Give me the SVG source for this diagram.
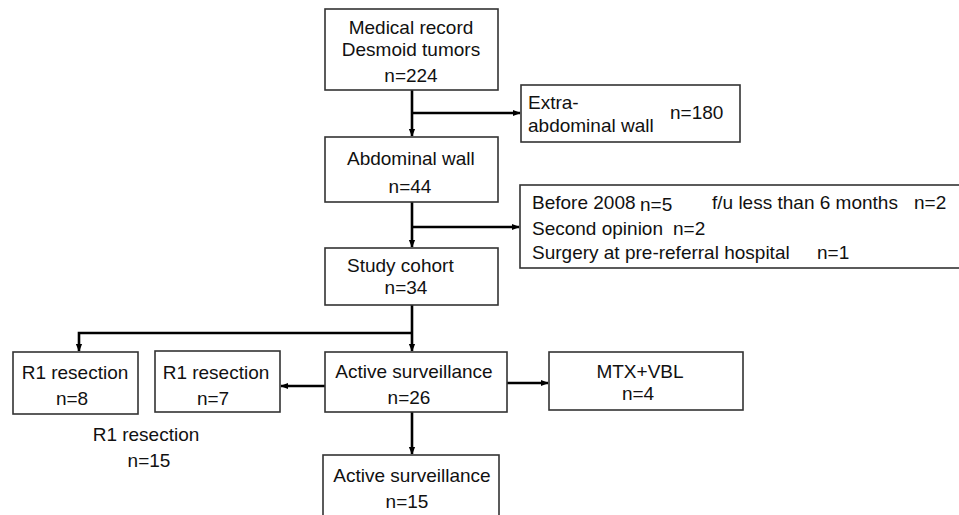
<svg xmlns="http://www.w3.org/2000/svg" width="959" height="515" viewBox="0 0 959 515">
<style>
.box{fill:#fff;stroke:#333;stroke-width:1.6}
.t{font-family:"Liberation Sans",Arial,sans-serif;font-size:19px;fill:#111}
.m{text-anchor:middle}
.c{fill:none;stroke:#000;stroke-width:2.6}
</style>
<defs>
<marker id="ah" markerUnits="userSpaceOnUse" markerWidth="8" markerHeight="8" viewBox="0 0 10 10" refX="9" refY="5" orient="auto">
<path d="M0,1 L10,5 L0,9 Z" fill="#000"/>
</marker>
</defs>
<rect width="959" height="515" fill="#fff"/>
<g id="connectors">
<path class="c" d="M412,90 V136" marker-end="url(#ah)"/>
<path class="c" d="M412,113 H520" marker-end="url(#ah)"/>
<path class="c" d="M412,202 V247" marker-end="url(#ah)"/>
<path class="c" d="M412,227 H519" marker-end="url(#ah)"/>
<path class="c" d="M412,305 V351" marker-end="url(#ah)"/>
<path class="c" d="M412,333 H79 V351" marker-end="url(#ah)"/>
<path class="c" d="M325,386 H281" marker-end="url(#ah)"/>
<path class="c" d="M507,383 H548" marker-end="url(#ah)"/>
<path class="c" d="M412,412 V454" marker-end="url(#ah)"/>
</g>
<g id="medical">
<rect class="box" x="325" y="9" width="173" height="81"/>
<text class="t m" x="411" y="34">Medical record</text>
<text class="t m" x="411" y="56">Desmoid tumors</text>
<text class="t m" x="411" y="82">n=224</text>
</g>
<g id="extra">
<rect class="box" x="521" y="85" width="219" height="57"/>
<text class="t" x="528" y="109">Extra-</text>
<text class="t" x="528" y="132">abdominal wall</text>
<text class="t" x="670" y="119">n=180</text>
</g>
<g id="abdominal">
<rect class="box" x="325" y="137" width="173" height="65"/>
<text class="t" x="347" y="165">Abdominal wall</text>
<text class="t m" x="410" y="193">n=44</text>
</g>
<g id="excluded">
<rect class="box" x="520" y="185" width="450" height="83"/>
<text class="t" x="532" y="209">Before 2008</text>
<text class="t" x="640" y="211">n=5</text>
<text class="t" x="712" y="209">f/u less than 6 months</text>
<text class="t" x="914" y="209">n=2</text>
<text class="t" x="532" y="235">Second opinion</text>
<text class="t" x="673" y="235">n=2</text>
<text class="t" x="532" y="259">Surgery at pre-referral hospital</text>
<text class="t" x="817" y="259">n=1</text>
</g>
<g id="cohort">
<rect class="box" x="325" y="248" width="173" height="57"/>
<text class="t" x="347" y="272">Study cohort</text>
<text class="t m" x="406" y="294">n=34</text>
</g>
<g id="r1a">
<rect class="box" x="13" y="352" width="125" height="62"/>
<text class="t m" x="75" y="379">R1 resection</text>
<text class="t m" x="72" y="405">n=8</text>
</g>
<g id="r1b">
<rect class="box" x="155" y="351" width="125" height="61"/>
<text class="t m" x="216" y="379">R1 resection</text>
<text class="t m" x="213" y="405">n=7</text>
</g>
<g id="r1total">
<text class="t m" x="146" y="441">R1 resection</text>
<text class="t m" x="149" y="467">n=15</text>
</g>
<g id="active26">
<rect class="box" x="325" y="352" width="182" height="60"/>
<text class="t m" x="414" y="378">Active surveillance</text>
<text class="t m" x="409" y="404">n=26</text>
</g>
<g id="mtx">
<rect class="box" x="549" y="352" width="194" height="58"/>
<text class="t m" x="640" y="378">MTX+VBL</text>
<text class="t m" x="638" y="400">n=4</text>
</g>
<g id="active15">
<rect class="box" x="323" y="455" width="176" height="70"/>
<text class="t m" x="412" y="482">Active surveillance</text>
<text class="t m" x="407" y="508">n=15</text>
</g>
</svg>
